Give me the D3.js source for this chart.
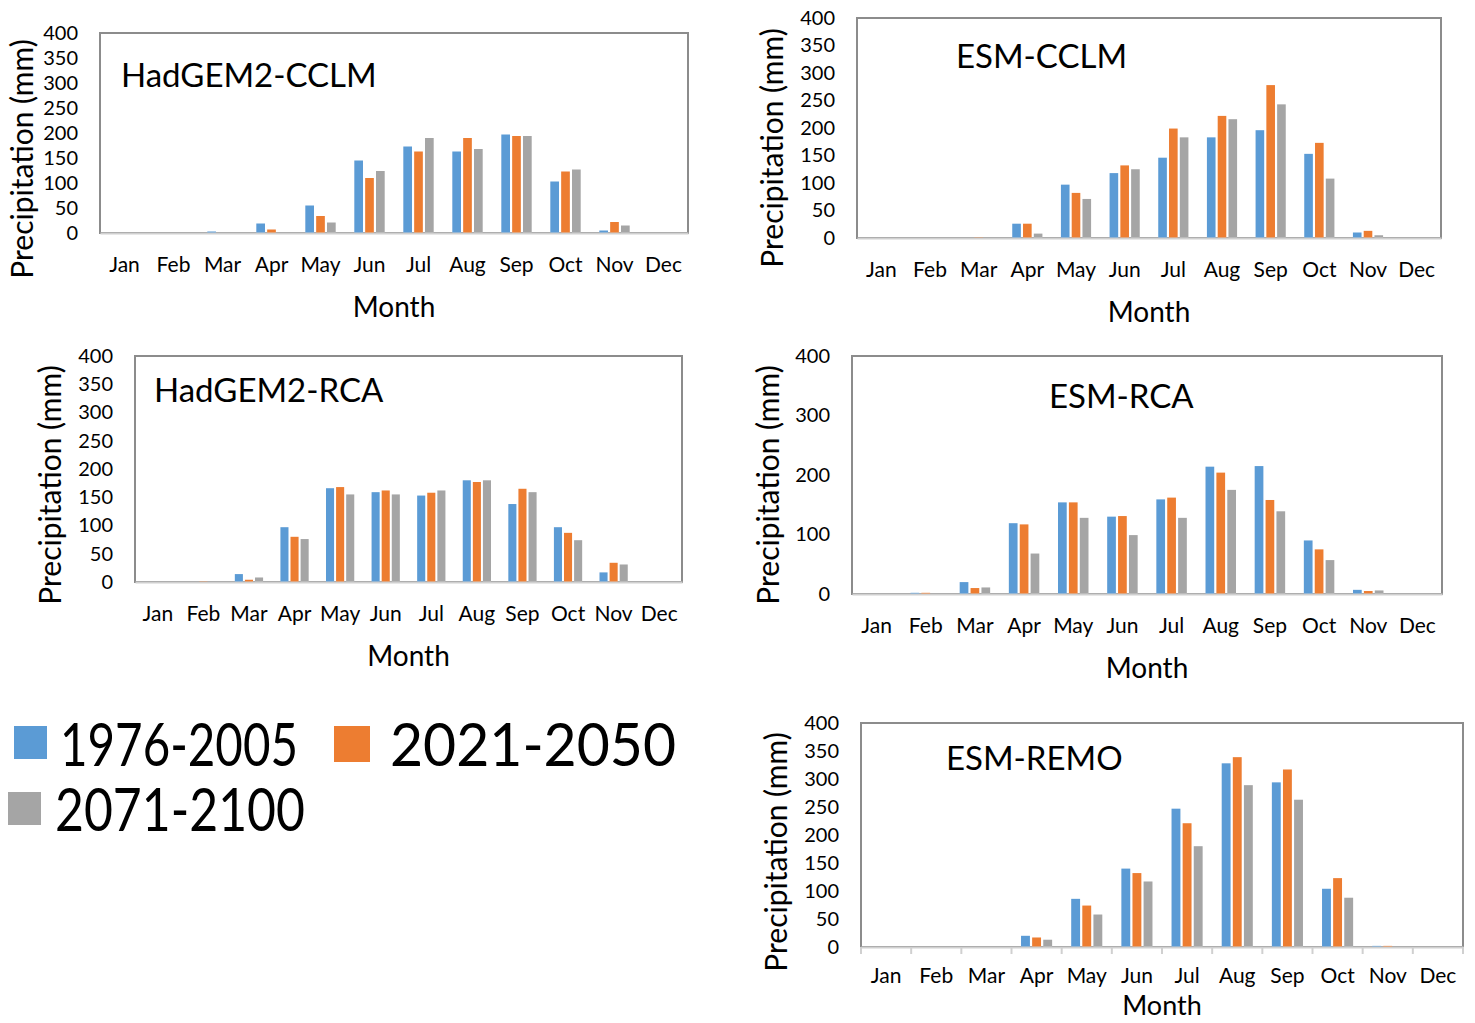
<!DOCTYPE html>
<html>
  <head>
    <meta charset="utf-8">
    <title>Monthly precipitation</title>
    <script src="https://d3js.org/d3.v7.min.js"></script>
    <style>
      body { margin: 0; background: #fff; }
      svg text { font-family: Lato, "Open Sans", sans-serif; fill: #000; }
    </style>
  </head>
  <body>
    <svg id="svg" width="1475" height="1023"></svg>
    <script>
      // data
      var months = ["Jan", "Feb", "Mar", "Apr", "May", "Jun", "Jul", "Aug", "Sep", "Oct", "Nov", "Dec"];
      var periods = ["1976-2005", "2021-2050", "2071-2100"];

      var hadCclmHist = [0, 0, 3, 19, 55, 145, 173, 163, 197, 103, 5, 0];
      var hadCclmMid  = [0, 0, 0, 7, 34, 110, 163, 190, 194, 123, 22, 0];
      var hadCclmEnd  = [0, 0, 0, 0, 21, 124, 190, 168, 194, 127, 15, 0];

      var esmCclmHist = [0, 0, 0, 26, 97, 118, 146, 183, 196, 153, 10, 0];
      var esmCclmMid  = [0, 0, 1, 26, 82, 132, 199, 222, 278, 173, 13, 0];
      var esmCclmEnd  = [0, 0, 0, 8, 71, 125, 183, 216, 243, 108, 5, 0];

      var hadRcaHist = [0, 0, 14, 97, 166, 159, 153, 180, 138, 97, 17, 0];
      var hadRcaMid  = [0, 1, 4, 80, 168, 162, 158, 177, 165, 87, 34, 0];
      var hadRcaEnd  = [0, 0, 8, 76, 155, 155, 162, 180, 159, 74, 31, 0];

      var esmRcaHist = [0, 2, 20, 119, 154, 130, 159, 214, 215, 90, 7, 0];
      var esmRcaMid  = [0, 2, 10, 117, 154, 131, 162, 204, 158, 75, 5, 0];
      var esmRcaEnd  = [0, 0, 11, 68, 128, 99, 128, 175, 139, 57, 6, 0];

      var esmRemoHist = [0, 0, 0, 20, 86, 140, 247, 328, 294, 104, 2, 0];
      var esmRemoMid  = [0, 0, 0, 17, 74, 132, 221, 339, 317, 123, 2, 0];
      var esmRemoEnd  = [0, 0, 0, 13, 58, 117, 180, 289, 263, 88, 0, 0];

      var colours = ["#5b9bd5", "#ed7d31", "#a5a5a5"];

      // panel layout
      var panels = [
        { title: "HadGEM2-CCLM", series: [hadCclmHist, hadCclmMid, hadCclmEnd],
          x: 100, y: 33, w: 588, h: 200, step: 50, titleX: 21, titleY: 42, ylabX: -78, ylabY: 26,
          tickPad: 24, monthY: 74, monthSize: 28, ticks: false },
        { title: "ESM-CCLM", series: [esmCclmHist, esmCclmMid, esmCclmEnd],
          x: 857, y: 18, w: 584, h: 220, step: 50, titleX: 99, titleY: 38, ylabX: -85, ylabY: 20,
          tickPad: 24, monthY: 74, monthSize: 28, ticks: false },
        { title: "HadGEM2-RCA", series: [hadRcaHist, hadRcaMid, hadRcaEnd],
          x: 135, y: 356, w: 547, h: 226, step: 50, titleX: 19, titleY: 34, ylabX: -85, ylabY: 16,
          tickPad: 24, monthY: 74, monthSize: 28, ticks: false },
        { title: "ESM-RCA", series: [esmRcaHist, esmRcaMid, esmRcaEnd],
          x: 852, y: 356, w: 590, h: 238, step: 100, titleX: 197, titleY: 40, ylabX: -84, ylabY: 10,
          tickPad: 24, monthY: 74, monthSize: 28, ticks: false },
        { title: "ESM-REMO", series: [esmRemoHist, esmRemoMid, esmRemoEnd],
          x: 861, y: 723, w: 602, h: 224, step: 50, titleX: 85, titleY: 35, ylabX: -85, ylabY: 17,
          tickPad: 21, monthY: 59, monthSize: 27, ticks: true }
      ];

      var svg = d3.select("#svg");

      panels.forEach(function(p) {
        var g = svg.append("g").attr("transform", "translate(" + p.x + "," + p.y + ")");
        var x = d3.scaleBand().domain(months).range([0, p.w]);
        var xs = d3.scaleBand().domain(periods)
          .range([x.bandwidth() * 0.19, x.bandwidth() * 0.81])
          .paddingInner(0.2);
        var y = d3.scaleLinear().domain([0, 400]).range([p.h, 0]);

        // frame
        g.append("rect")
          .attr("width", p.w).attr("height", p.h)
          .attr("fill", "none").attr("stroke", "#8c8c8c").attr("stroke-width", 2);

        // bars
        periods.forEach(function(s, i) {
          g.selectAll(".bar" + i)
            .data(p.series[i])
          .enter().append("rect")
            .attr("x", function(d, j) { return x(months[j]) + xs(s); })
            .attr("y", function(d) { return y(d); })
            .attr("width", xs.bandwidth())
            .attr("height", function(d) { return p.h - y(d); })
            .attr("fill", colours[i]);
        });

        // y axis
        var yAxis = g.append("g")
          .call(d3.axisLeft(y).tickValues(d3.range(0, 401, p.step)).tickSize(0).tickPadding(22));
        yAxis.select(".domain").remove();
        yAxis.selectAll("text").attr("font-size", 20).attr("font-family", "Lato").attr("fill", "#000");

        // x axis
        var xAxis = g.append("g")
          .attr("transform", "translate(0," + p.h + ")")
          .call(d3.axisBottom(x).tickSize(0).tickPadding(p.tickPad));
        xAxis.select(".domain").attr("stroke", "#d0d0d0").attr("stroke-width", 2);
        xAxis.selectAll("text").attr("font-size", 21).attr("font-family", "Lato").attr("fill", "#000");
        if (p.ticks) {
          xAxis.selectAll(".sep")
            .data(months.concat(["end"]))
          .enter().append("line")
            .attr("x1", function(d, j) { return j * x.step(); })
            .attr("x2", function(d, j) { return j * x.step(); })
            .attr("y1", 0).attr("y2", 7)
            .attr("stroke", "#d0d0d0").attr("stroke-width", 2);
        }

        // titles
        g.append("text")
          .attr("x", p.titleX).attr("y", p.titleY)
          .attr("dy", "0.35em")
          .attr("font-size", 33)
          .text(p.title);
        g.append("text")
          .attr("x", p.w / 2).attr("y", p.h + p.monthY)
          .attr("dy", "0.35em")
          .attr("text-anchor", "middle")
          .attr("font-size", p.monthSize)
          .text("Month");
        g.append("text")
          .attr("transform", "translate(" + p.ylabX + "," + (p.h / 2 + p.ylabY) + ") rotate(-90)")
          .attr("dy", "0.35em")
          .attr("text-anchor", "middle")
          .attr("font-size", 30)
          .text("Precipitation (mm)");
      });

      // legend
      var legendLayout = [
        { sx: 14, sy: 726, size: 33, tx: 60, ty: 744, len: 238 },
        { sx: 334, sy: 726, size: 36, tx: 390, ty: 744, len: 286 },
        { sx: 8, sy: 792, size: 33, tx: 55, ty: 809, len: 250 }
      ];
      var legend = svg.append("g");
      periods.forEach(function(s, i) {
        var l = legendLayout[i];
        legend.append("rect")
          .attr("x", l.sx).attr("y", l.sy)
          .attr("width", l.size).attr("height", l.size)
          .attr("fill", colours[i]);
        legend.append("text")
          .attr("x", l.tx).attr("y", l.ty)
          .attr("dy", "0.36em")
          .attr("font-size", 60)
          .attr("fill", "#1a1a1a")
          .attr("textLength", l.len)
          .attr("lengthAdjust", "spacingAndGlyphs")
          .text(s);
      });
    </script>
  </body>
</html>
